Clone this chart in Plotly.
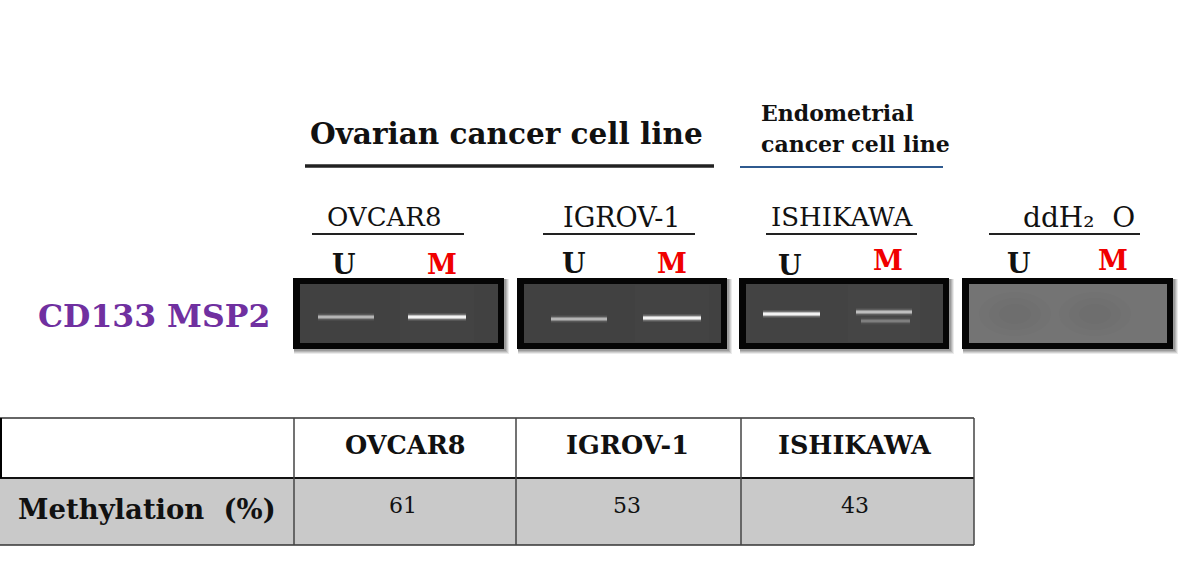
import plotly.graph_objects as go

# ---- data ----
cell_lines = ["OVCAR8", "IGROV-1", "ISHIKAWA"]
methylation = [61, 53, 43]
row_label = "Methylation\u00a0 (%)"
panel_names = ["OVCAR8", "IGROV-1", "ISHIKAWA", "ddH\u2082\u00a0 O"]
lane_labels = ["U", "M"]
u_band_intensity = [0.5, 0.5, 1.0]
m_band_intensity = [1.0, 1.0, 0.55]
ishikawa_lower_band = 0.22
group_title_main = "Ovarian cancer cell line"
group_title_side = ["Endometrial", "cancer cell line"]
row_title = "CD133 MSP2"

# ---- layout constants (pixels) ----
W, H = 1200, 571
SERIF = "DejaVu Serif"
panel_x = [(293, 504), (517, 727), (739, 949), (962, 1173)]
panel_fill = ["#414141", "#414141", "#434343", "#747474"]
u_band_x = [(318, 374), (551, 607), (763, 820)]
m_band_x = [(408, 466), (643, 701), (856, 912)]
u_band_y = [317, 319, 314]
m_band_y = [317, 318, 312]
under_x = [(312, 464), (543, 695), (766, 917), (989, 1140)]
name_cx = [384, 622, 842, 1079]
name_size = [26, 27, 26, 28]
u_cx = [344, 574, 790, 1019]
m_cx = [442, 672, 888, 1113]
u_y = [264, 263, 265, 263]
m_y = [264, 263, 260, 260]
table_cols = [0, 294, 516, 741, 974]
table_rows = [418, 478, 545]
cell_cx = [405, 627, 855]
value_cx = [403, 627, 855]

fig = go.Figure()
shapes, ann = [], []


def line(x0, y0, x1, y1, color, width):
    shapes.append(dict(type="line", x0=x0, y0=y0, x1=x1, y1=y1,
                       line=dict(color=color, width=width), layer="above"))


def rect(x0, y0, x1, y1, fill, layer="below"):
    shapes.append(dict(type="rect", x0=x0, y0=y0, x1=x1, y1=y1, fillcolor=fill,
                       line=dict(width=0), layer=layer))


def text(x, y, s, size, color="#111111", bold=False, anchor="center"):
    ann.append(dict(x=x, y=y, text=f"<b>{s}</b>" if bold else s, showarrow=False,
                    xanchor=anchor, yanchor="middle",
                    font=dict(family=SERIF, size=size, color=color)))


def band(xr, y, level):
    # soft glowing band made of stacked translucent strokes
    xs, ys = list(xr), [y, y]
    for w, a in [(8, 0.10 * level), (5.5, 0.22 * level), (4, 0.40 * level), (2.5, 0.85 * level)]:
        fig.add_trace(go.Scatter(x=xs, y=ys, mode="lines", hoverinfo="skip", showlegend=False,
                                 line=dict(color=f"rgba(255,255,255,{a:.3f})", width=w)))


# group titles
text(506, 133, group_title_main, 29.5, bold=True)
line(305, 166, 714, 166, "#222222", 3.5)
text(759, 113, group_title_side[0], 22, bold=True, anchor="left")
text(759, 144, group_title_side[1], 22, bold=True, anchor="left")
line(740, 167, 943, 167, "#2f5a8f", 2)

# panels
for i, (x0, x1) in enumerate(panel_x):
    text(name_cx[i], 217, panel_names[i], name_size[i])
    line(under_x[i][0], 234, under_x[i][1], 234, "#222222", 2)
    text(u_cx[i], u_y[i], lane_labels[0], 27, bold=True)
    text(m_cx[i], m_y[i], lane_labels[1], 27, color="#f00000", bold=True)
    for off, alpha in [(5, 0.10), (4, 0.14), (3, 0.18), (2, 0.22)]:
        rect(x0 + 1, 279, x1 + off, 349 + off, f"rgba(60,60,60,{alpha})")
    rect(x0, 278, x1, 349, "#050505")
    rect(x0 + 7, 284, x1 - 6, 343, panel_fill[i])

# faintly lighter lane columns on the gels
for i in range(3):
    rect(m_band_x[i][0] - 8, 285, m_band_x[i][1] + 8, 342, "rgba(255,255,255,0.012)")

# faint darker smears on the water control
for cx in (1015, 1095):
    for r, ry in [(36, 22), (26, 16), (16, 10)]:
        shapes.append(dict(type="circle", x0=cx - r, y0=314 - ry, x1=cx + r, y1=314 + ry,
                           fillcolor="rgba(40,40,40,0.018)", line=dict(width=0), layer="below"))

# bands
for i in range(3):
    band(u_band_x[i], u_band_y[i], u_band_intensity[i])
    band(m_band_x[i], m_band_y[i], m_band_intensity[i])
band((861, 910), 321, ishikawa_lower_band)

text(154, 315, row_title, 31.5, color="#7030a0", bold=True)

# table
rect(table_cols[0], table_rows[1], table_cols[-1], table_rows[2], "#c9c9c9")
line(0, table_rows[0], table_cols[-1], table_rows[0], "#333333", 1.5)
line(0, table_rows[1], table_cols[-1], table_rows[1], "#111111", 2)
line(0, table_rows[2], table_cols[-1], table_rows[2], "#333333", 1.5)
line(1, table_rows[0], 1, table_rows[1], "#000000", 2)
for c in table_cols[1:]:
    line(c, table_rows[0], c, table_rows[2], "#444444", 1.5)
for i, name in enumerate(cell_lines):
    text(cell_cx[i], 445, name, 25.5, bold=True)
    text(value_cx[i], 505, str(methylation[i]), 22)
text(16, 509, row_label, 27.5, bold=True, anchor="left")

fig.update_layout(
    width=W, height=H, margin=dict(l=0, r=0, t=0, b=0),
    paper_bgcolor="white", plot_bgcolor="white", showlegend=False,
    xaxis=dict(range=[0, W], visible=False, fixedrange=True),
    yaxis=dict(range=[H, 0], visible=False, fixedrange=True),
    shapes=shapes, annotations=ann,
)
fig.write_html("out.html", config={"displayModeBar": False},
               post_script="document.body.style.margin='0';")
